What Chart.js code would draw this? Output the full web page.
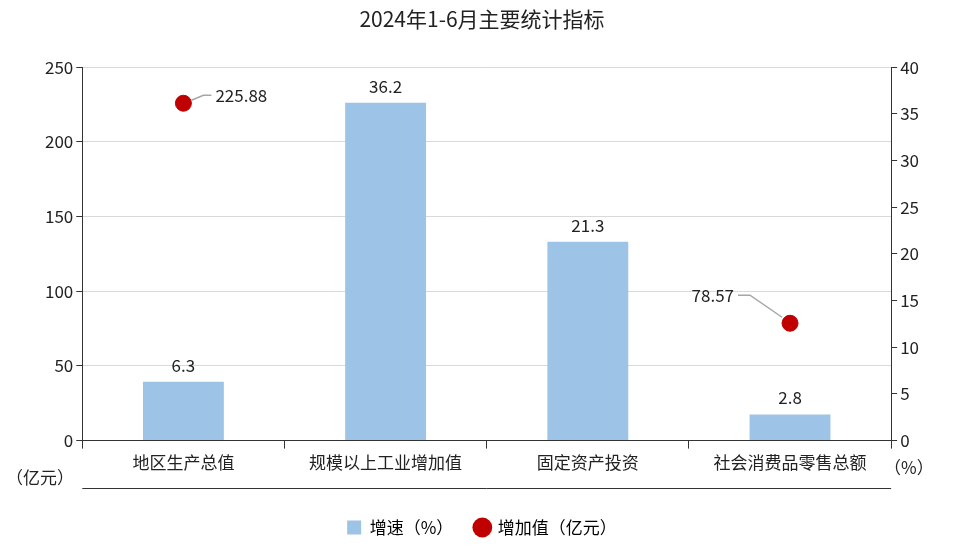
<!DOCTYPE html>
<html>
<head>
<meta charset="utf-8">
<script src="https://cdn.jsdelivr.net/npm/chart.js@4"></script>
<style>
  html, body { margin: 0; padding: 0; background: #fff; }
  #wrap { width: 974px; height: 552px; position: relative; }
</style>
</head>
<body>
<div id="wrap"><canvas id="c"></canvas></div>
<script>
const categories = ['地区生产总值', '规模以上工业增加值', '固定资产投资', '社会消费品零售总额'];
const growthRate = [6.3, 36.2, 21.3, 2.8];          // 增速（%）
const addedValue = [225.88, null, null, 78.57];     // 增加值（亿元）
const FONT = '"Noto Sans CJK SC", "Noto Sans", sans-serif';

// 数据标签 + 引导线
const labelsPlugin = {
  id: 'labels',
  afterDatasetsDraw(chart) {
    const ctx = chart.ctx;
    ctx.save();
    ctx.font = '17px ' + FONT;
    ctx.fillStyle = '#222';
    const bars = chart.getDatasetMeta(0).data;
    ctx.textAlign = 'center';
    ctx.textBaseline = 'bottom';
    bars.forEach((b, i) => ctx.fillText(String(growthRate[i]), b.x, b.y - 8));

    const pts = chart.getDatasetMeta(1).data;
    ctx.strokeStyle = '#a6a6a6';
    ctx.lineWidth = 1.5;
    ctx.textBaseline = 'middle';
    pts.forEach((p, i) => {
      if (addedValue[i] == null) return;
      const txt = addedValue[i].toFixed(2);
      if (i === 0) {
        ctx.beginPath();
        ctx.moveTo(p.x + 8, p.y - 3);
        ctx.lineTo(p.x + 20, p.y - 8);
        ctx.lineTo(p.x + 28, p.y - 8);
        ctx.stroke();
        ctx.textAlign = 'left';
        ctx.fillText(txt, p.x + 32, p.y - 8);
      } else {
        ctx.beginPath();
        ctx.moveTo(p.x - 8, p.y - 6);
        ctx.lineTo(p.x - 40, p.y - 28);
        ctx.lineTo(p.x - 52, p.y - 28);
        ctx.stroke();
        ctx.textAlign = 'right';
        ctx.fillText(txt, p.x - 56, p.y - 28);
      }
    });

    // 单位与分隔线
    const x = chart.scales.x;
    ctx.font = '17px ' + FONT;
    ctx.textAlign = 'left';
    ctx.fillText('（亿元）', 6, 478);
    ctx.fillText('（%）', 884, 468);
    ctx.strokeStyle = '#333';
    ctx.lineWidth = 1;
    ctx.beginPath();
    ctx.moveTo(x.left, 488.5);
    ctx.lineTo(x.right, 488.5);
    ctx.stroke();
    ctx.restore();
  }
};

new Chart(document.getElementById('c'), {
  data: {
    labels: categories,
    datasets: [
      {
        type: 'bar',
        label: '增速（%）',
        data: growthRate,
        yAxisID: 'y1',
        backgroundColor: '#9dc3e6',
        barPercentage: 0.4,
        categoryPercentage: 1,
        order: 2,
      },
      {
        type: 'line',
        label: '增加值（亿元）',
        data: addedValue,
        yAxisID: 'y',
        showLine: false,
        pointRadius: 8,
        pointStyle: 'circle',
        backgroundColor: '#c00000',
        borderColor: '#c00000',
        order: 1,
      },
    ],
  },
  options: {
    responsive: true,
    maintainAspectRatio: false,
    animation: false,
    layout: { padding: { left: 42, right: 52, top: 0, bottom: 6 } },
    plugins: {
      title: {
        display: true,
        text: '2024年1-6月主要统计指标',
        color: '#222',
        font: { family: FONT, size: 21, weight: 'normal' },
        padding: { top: 6, bottom: 36 },
      },
      legend: {
        position: 'bottom',
        labels: {
          color: '#222',
          font: { family: FONT, size: 17 },
          boxWidth: 14,
          boxHeight: 14,
          padding: 22,
          usePointStyle: true,
          generateLabels() {
            return [
              { text: '增速（%）', fillStyle: '#9dc3e6', strokeStyle: '#9dc3e6', lineWidth: 0, pointStyle: 'rect', datasetIndex: 0 },
              { text: '增加值（亿元）', fillStyle: '#c00000', strokeStyle: '#c00000', lineWidth: 0, pointStyle: 'circle', datasetIndex: 1 },
            ];
          },
        },
      },
      tooltip: { enabled: false },
    },
    scales: {
      x: {
        offset: true,
        grid: { display: true, drawOnChartArea: false, offset: true, color: '#333', tickLength: 8 },
        border: { color: '#333' },
        ticks: { color: '#222', font: { family: FONT, size: 17 }, padding: 4 },
        afterFit(scale) { scale.height += 20; },
      },
      y: {
        position: 'left',
        min: 0, max: 250,
        ticks: { stepSize: 50, color: '#222', font: { family: FONT, size: 17 } },
        grid: { color: '#d9d9d9', tickLength: 6, tickColor: '#333' },
        border: { color: '#333' },
      },
      y1: {
        position: 'right',
        min: 0, max: 40,
        ticks: { stepSize: 5, color: '#222', font: { family: FONT, size: 17 } },
        grid: { drawOnChartArea: false, tickLength: 6, color: '#333' },
        border: { color: '#333' },
      },
    },
  },
  plugins: [labelsPlugin],
});
</script>
</body>
</html>
